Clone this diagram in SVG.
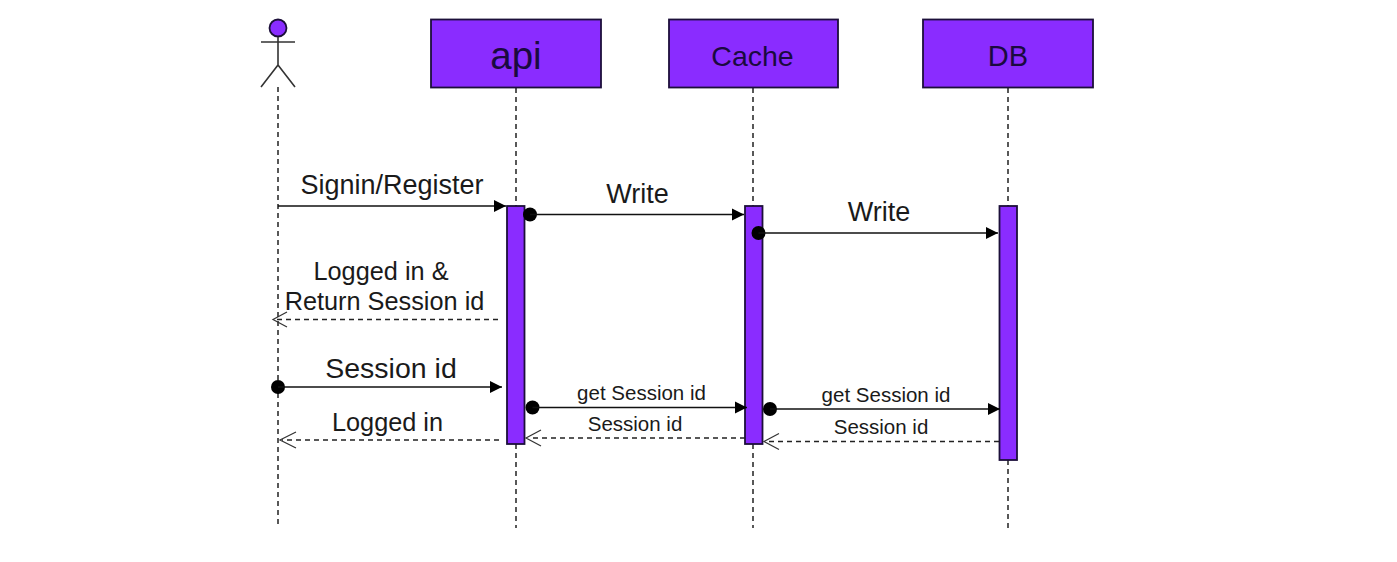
<svg xmlns="http://www.w3.org/2000/svg" width="1397" height="562" viewBox="0 0 1397 562">
<style>
text{font-family:"Liberation Sans",Arial,sans-serif;fill:#1a1a1a;text-anchor:middle}
.box{fill:#8a2cff;stroke:#1c0f3a;stroke-width:1.8}
.life{stroke:#222;stroke-width:1.5;stroke-dasharray:5 4;fill:none}
.msg{stroke:#111;stroke-width:1.7;fill:none}
.ret{stroke:#222;stroke-width:1.4;stroke-dasharray:5 4;fill:none}
.open{stroke:#333;stroke-width:1.2;fill:none}
.act{stroke:#333;stroke-width:1.6;fill:none}
.nm{fill:#1a0a40}
</style>
<defs>
<marker id="solid" markerUnits="userSpaceOnUse" markerWidth="13" markerHeight="13" refX="12" refY="6.500" orient="auto"><path d="M0 0.500L12 6.500L0 12.500Z" fill="#000"/></marker>
</defs>
<rect width="1397" height="562" fill="#fff"/>
<g id="lifelines">
<path class="life" d="M278 87V528"/>
<path class="life" d="M516 88V206M516 444V528"/>
<path class="life" d="M753 88V206M753 444V528"/>
<path class="life" d="M1008 88V206M1008 460V528"/>
</g>
<g id="actor">
<circle cx="278" cy="28" r="8.500" class="box"/>
<path class="act" d="M261 42H295M278 37V65M278 65L261 87M278 65L295 87"/>
</g>
<g id="node-api"><rect class="box" x="431" y="19.500" width="170" height="68"/><text class="nm" x="516" y="69" font-size="38.500">api</text></g>
<g id="node-cache"><rect class="box" x="669" y="19.500" width="169" height="68"/><text class="nm" x="752.500" y="66" font-size="28.500">Cache</text></g>
<g id="node-db"><rect class="box" x="923" y="19.500" width="170" height="68"/><text class="nm" x="1008" y="66" font-size="29">DB</text></g>
<g id="activation-api"><rect class="box" x="507" y="206" width="17.500" height="238"/></g>
<g id="activation-cache"><rect class="box" x="745" y="206" width="17.500" height="238"/></g>
<g id="activation-db"><rect class="box" x="999.500" y="206" width="17.500" height="254"/></g>
<g id="connectors">
<path class="msg" marker-end="url(#solid)" d="M278 206H506"/>
<circle cx="530" cy="214.500" r="7"/><path class="msg" marker-end="url(#solid)" d="M530 214.500H744"/>
<circle cx="758.500" cy="233" r="7"/><path class="msg" marker-end="url(#solid)" d="M758.500 233H998"/>
<path class="ret" d="M498 319.500H274"/><path class="open" d="M287 312L273 319.500L287 327"/>
<circle cx="278" cy="387" r="7"/><path class="msg" marker-end="url(#solid)" d="M278 387H502"/>
<circle cx="532.500" cy="407.500" r="7"/><path class="msg" marker-end="url(#solid)" d="M532.500 407.500H747"/>
<circle cx="770" cy="409" r="7"/><path class="msg" marker-end="url(#solid)" d="M770 409H1000"/>
<path class="ret" d="M499 440H282"/><path class="open" d="M296 432L280 440L296 448"/>
<path class="ret" d="M745 438H529"/><path class="open" d="M541 430L526 438L541 446"/>
<path class="ret" d="M999 441.500H767"/><path class="open" d="M779 433.500L764 441.500L779 449.500"/>
</g>
<g id="labels">
<text x="392" y="194" font-size="27">Signin/Register</text>
<text x="637.500" y="203" font-size="27">Write</text>
<text x="879" y="221" font-size="27">Write</text>
<text x="381" y="280" font-size="25.300">Logged in &amp;</text>
<text x="384.500" y="310" font-size="25.300">Return Session id</text>
<text x="391" y="378" font-size="28.500">Session id</text>
<text x="387.500" y="431" font-size="25.300">Logged in</text>
<text x="641.500" y="400" font-size="20.500">get Session id</text>
<text x="635" y="431" font-size="20.500">Session id</text>
<text x="886" y="402" font-size="20.500">get Session id</text>
<text x="881" y="434" font-size="20.500">Session id</text>
</g>
</svg>
